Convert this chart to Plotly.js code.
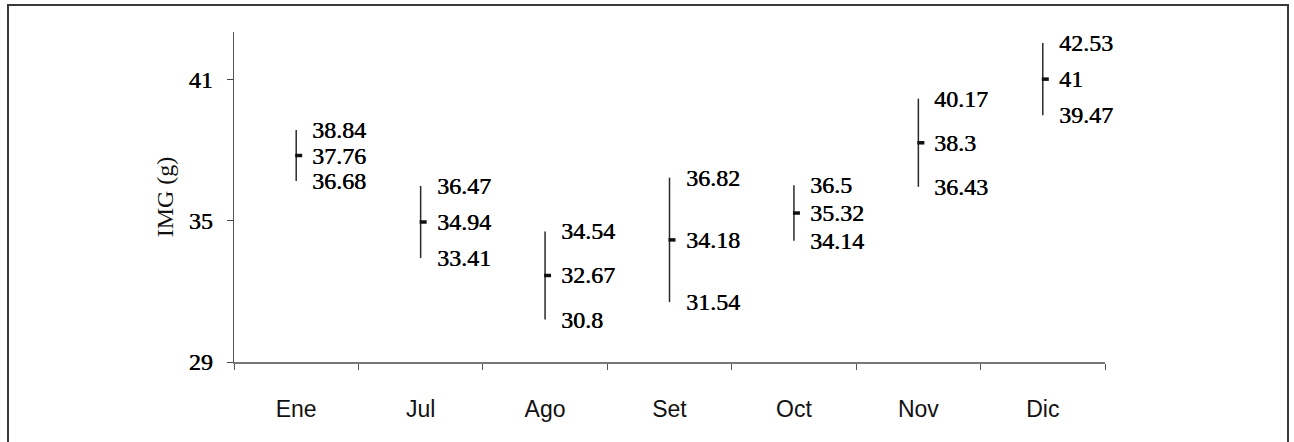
<!DOCTYPE html>
<html>
<head>
<meta charset="utf-8">
<script src="https://cdn.plot.ly/plotly-3.0.1.min.js"></script>
<style>
  html, body { margin: 0; padding: 0; background: #fff; }
  #wrap { position: relative; width: 1294px; height: 442px; overflow: hidden; }
  #chart { position: absolute; left: 0; top: 0; width: 1294px; height: 442px; }
  #frame { position: absolute; left: 7px; top: 4px; width: 1282px; height: 445px;
           border: 2px solid #3a3a3a; box-sizing: border-box; pointer-events: none; }
</style>
</head>
<body>
<div id="wrap">
  <div id="chart"></div>
  <div id="frame"></div>
</div>
<script>
// Data
const months = ["Ene", "Jul", "Ago", "Set", "Oct", "Nov", "Dic"];
const upper  = [38.84, 36.47, 34.54, 36.82, 36.5, 40.17, 42.53];
const meanV  = [37.76, 34.94, 32.67, 34.18, 35.32, 38.3, 41];
const lower  = [36.68, 33.41, 30.8, 31.54, 34.14, 36.43, 39.47];
const yTicks = [29, 35, 41];

const serif = "Liberation Serif";
const sans = "Liberation Sans";
const thicken = "0.45px 0 0 #000";

const errPlus = upper.map((u, i) => u - meanV[i]);
const errMinus = lower.map((l, i) => meanV[i] - l);

const trace = {
  type: "scatter",
  mode: "markers",
  x: months,
  y: meanV,
  marker: { size: 1, color: "rgba(0,0,0,0)" },
  error_y: {
    type: "data", symmetric: false,
    array: errPlus, arrayminus: errMinus,
    width: 0, thickness: 1.5, color: "#2a2a2a"
  },
  hoverinfo: "skip",
  showlegend: false
};

// mean markers: short thick dash at each mean
const shapes = months.map((m, i) => ({
  type: "line", xref: "x", yref: "y",
  xsizemode: "pixel", xanchor: m,
  x0: -1, x1: 6, y0: meanV[i], y1: meanV[i],
  line: { color: "#111", width: 3.5 }
}));

// value labels
const annotations = [];
months.forEach((m, i) => {
  [upper[i], meanV[i], lower[i]].forEach(v => {
    annotations.push({
      x: m, y: v, xref: "x", yref: "y",
      text: String(v), showarrow: false,
      xanchor: "left", yanchor: "middle", xshift: 14,
      font: { family: serif, size: 24, color: "#000", shadow: thicken }
    });
  });
});

const layout = {
  width: 1294, height: 442,
  margin: { l: 234, r: 189, t: 32, b: 80 },
  paper_bgcolor: "#fff", plot_bgcolor: "#fff",
  showlegend: false,
  xaxis: {
    type: "category",
    categoryorder: "array", categoryarray: months,
    range: [-0.5, 6.5],
    tickson: "boundaries",
    ticks: "outside", ticklen: 6, tickwidth: 1, tickcolor: "#555",
    showline: true, linecolor: "#777", linewidth: 1.5,
    showgrid: false, zeroline: false,
    ticklabelstandoff: 26,
    tickfont: { family: sans, size: 23, color: "#111" }
  },
  yaxis: {
    range: [29, 43],
    tickvals: yTicks,
    ticktext: yTicks.map(String),
    ticks: "outside", ticklen: 6, tickwidth: 1, tickcolor: "#444",
    showline: true, linecolor: "#555", linewidth: 1.5,
    showgrid: false, zeroline: false,
    ticklabelstandoff: 9,
    tickfont: { family: serif, size: 24, color: "#000", shadow: thicken },
    title: { text: "IMG (g)", font: { family: serif, size: 24, color: "#111" }, standoff: 8 }
  },
  shapes: shapes,
  annotations: annotations
};

Plotly.newPlot("chart", [trace], layout, { displayModeBar: false, staticPlot: true });
</script>
</body>
</html>
